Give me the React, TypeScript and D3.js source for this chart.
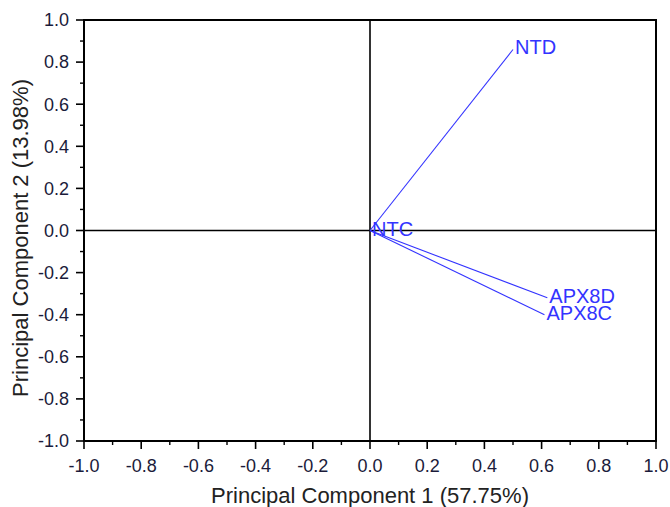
import React from "react";
import * as d3 from "d3";

// loadings
const variables = ["NTD", "NTC", "APX8D", "APX8C"];
const pc1 = [0.5, 0.0, 0.62, 0.61];
const pc2 = [0.86, 0.0, -0.32, -0.4];
const tickValues = [-1.0, -0.8, -0.6, -0.4, -0.2, 0.0, 0.2, 0.4, 0.6, 0.8, 1.0];
const xTitle = "Principal Component 1 (57.75%)";
const yTitle = "Principal Component 2 (13.98%)";

const width = 670,
  height = 507;
const margin = { left: 84, right: 14, top: 20, bottom: 66 };

export default function App() {
  const x = d3
    .scaleLinear()
    .domain([-1, 1])
    .range([margin.left, width - margin.right]);
  const y = d3
    .scaleLinear()
    .domain([-1, 1])
    .range([height - margin.bottom, margin.top]);

  const minor = d3.range(-0.9, 1.0, 0.2);
  const font = "'Liberation Sans', Arial, sans-serif";
  const tickColor = "#1b1b3a";
  const blue = "#3333ff";

  return (
    <svg
      width={width}
      height={height}
      style={{ position: "absolute", left: 0, top: 0 }}
      fontFamily={font}
    >
      {/* frame */}
      <rect
        x={x(-1)}
        y={y(1)}
        width={x(1) - x(-1)}
        height={y(-1) - y(1)}
        fill="none"
        stroke="#000"
        strokeWidth={2}
      />
      {/* zero lines */}
      <line x1={x(0)} x2={x(0)} y1={y(1)} y2={y(-1)} stroke="#000" strokeWidth={1.6} />
      <line x1={x(-1)} x2={x(1)} y1={y(0)} y2={y(0)} stroke="#000" strokeWidth={1.6} />

      {/* x axis ticks */}
      {tickValues.map((t) => (
        <g key={"x" + t}>
          <line x1={x(t)} x2={x(t)} y1={y(-1)} y2={y(-1) + 8} stroke="#000" strokeWidth={1.6} />
          <text
            x={x(t)}
            y={y(-1) + 25}
            dy="0.35em"
            textAnchor="middle"
            fontSize={18}
            fill={tickColor}
          >
            {t.toFixed(1)}
          </text>
        </g>
      ))}
      {minor.map((t) => (
        <line key={"xm" + t} x1={x(t)} x2={x(t)} y1={y(-1)} y2={y(-1) + 4} stroke="#000" strokeWidth={1.4} />
      ))}

      {/* y axis ticks */}
      {tickValues.map((t) => (
        <g key={"y" + t}>
          <line x1={x(-1) - 8} x2={x(-1)} y1={y(t)} y2={y(t)} stroke="#000" strokeWidth={1.6} />
          <text
            x={x(-1) - 15}
            y={y(t)}
            dy="0.35em"
            textAnchor="end"
            fontSize={18}
            fill={tickColor}
          >
            {t.toFixed(1)}
          </text>
        </g>
      ))}
      {minor.map((t) => (
        <line key={"ym" + t} x1={x(-1) - 4} x2={x(-1)} y1={y(t)} y2={y(t)} stroke="#000" strokeWidth={1.4} />
      ))}

      {/* loading vectors */}
      {variables.map((v, i) => (
        <g key={v}>
          <line
            x1={x(0)}
            y1={y(0)}
            x2={x(pc1[i])}
            y2={y(pc2[i])}
            stroke={blue}
            strokeWidth={1.1}
          />
          <text
            x={x(pc1[i]) + 2}
            y={y(pc2[i]) - 2}
            dy="0.35em"
            fontSize={20}
            fill={blue}
          >
            {v}
          </text>
        </g>
      ))}

      {/* titles */}
      <text
        x={x(0)}
        y={height - 4}
        textAnchor="middle"
        fontSize={22}
        fill="#222"
      >
        {xTitle}
      </text>
      <text
        transform={`translate(${28},${238}) rotate(-90)`}
        textAnchor="middle"
        fontSize={22}
        fill="#222"
      >
        {yTitle}
      </text>
    </svg>
  );
}
